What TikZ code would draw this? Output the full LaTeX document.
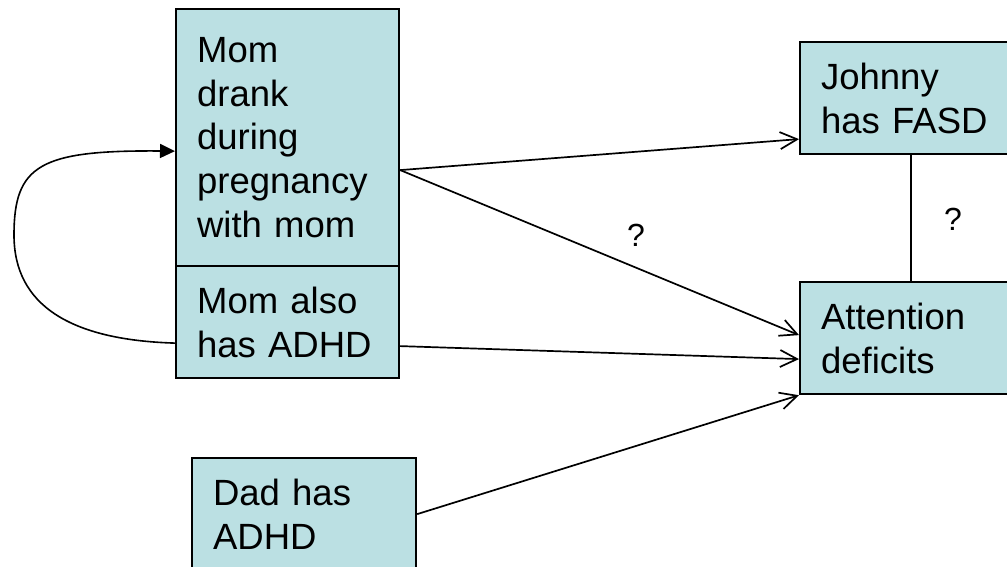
\documentclass[tikz,border=0pt]{standalone}
\usepackage{fontspec}
\setmainfont{Liberation Sans}
\usetikzlibrary{arrows.meta}
\definecolor{boxfill}{RGB}{187,224,227}
\begin{document}
\begin{tikzpicture}[x=1pt,y=-1pt,
  box/.style={draw=black, line width=2.2pt, fill=boxfill, anchor=north west,
    inner xsep=21pt, inner ysep=0pt, align=left, minimum height=112pt,
    font=\fontsize{36.5}{43.8}\selectfont},
  conn/.style={line width=1.7pt, -{Straight Barb[length=17pt,width=17pt,line width=1.7pt]}},
  qmark/.style={anchor=base, inner sep=0pt, font=\fontsize{32}{38}\selectfont}
]
\useasboundingbox (0,0) rectangle (1007,566);
\node[box, text width=181pt, minimum height=257pt] (mom) at (175,8)
  {Mom\\drank\\during\\pregnancy\\with mom};
\node[box, text width=181pt] (momalso) at (175,265) {Mom also\\has ADHD};
\node[box, text width=200pt] (johnny) at (799,41) {Johnny\\has FASD};
\node[box, text width=200pt] (att) at (799,281) {Attention\\deficits};
\node[box, text width=182pt] (dad) at (191,457) {Dad has\\ADHD};
\node[qmark] (q1) at (636,246) {?};
\node[qmark] (q2) at (953,230) {?};
\coordinate (bend) at (14,235);
\draw[conn] ([yshift=-32.5pt]mom.east) -- ([yshift=-41pt]johnny.west);
\draw[conn] ([yshift=-32.5pt]mom.east) -- ([yshift=3pt]att.west);
\draw[conn] ([yshift=-24pt]momalso.east) -- ([yshift=-21pt]att.west);
\draw[conn] (dad.east) -- (att.south west);
\draw[line width=1.3pt] ([xshift=112pt]johnny.south west) -- ([xshift=112pt]att.north west);
\draw[line width=1.6pt, -{Triangle[length=15pt,width=14pt]}]
  ([yshift=-21pt]momalso.west) .. controls (70,340) and (14,305) .. (bend)
  .. controls (14,165) and (40,150) .. ([yshift=-13.5pt]mom.west);
\end{tikzpicture}
\end{document}
